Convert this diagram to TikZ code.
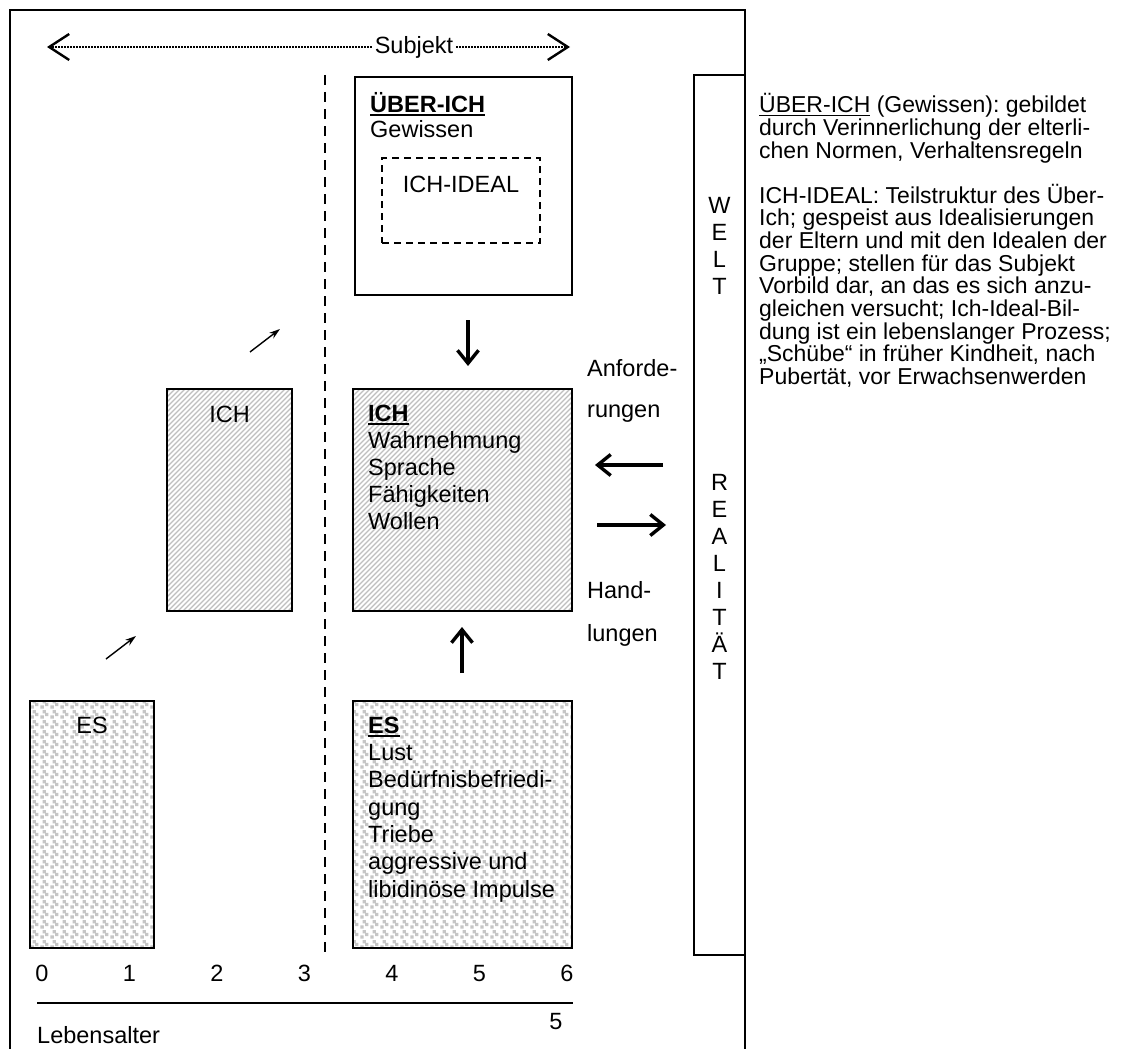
\documentclass[tikz,border=0pt]{standalone}
\usepackage{fontspec}
\setmainfont{Liberation Sans}
\usetikzlibrary{arrows.meta,patterns}
\pgfdeclarepatternformonly{myhatch}{\pgfqpoint{-1pt}{-1pt}}{\pgfqpoint{6pt}{6pt}}{\pgfqpoint{5pt}{5pt}}{%
  \pgfsetlinewidth{1.4pt}%
  \pgfpathmoveto{\pgfqpoint{0pt}{0pt}}\pgfpathlineto{\pgfqpoint{5.1pt}{5.1pt}}\pgfusepath{stroke}}
\pgfdeclarepatternformonly{mydots}{\pgfqpoint{0pt}{0pt}}{\pgfqpoint{10pt}{10pt}}{\pgfqpoint{10pt}{10pt}}{%
  \pgfpathrectangle{\pgfqpoint{0.5pt}{0.5pt}}{\pgfqpoint{3.6pt}{3.6pt}}%
  \pgfpathrectangle{\pgfqpoint{5.6pt}{3.2pt}}{\pgfqpoint{3.6pt}{3.6pt}}%
  \pgfpathrectangle{\pgfqpoint{2.8pt}{6.2pt}}{\pgfqpoint{3.6pt}{3.6pt}}%
  \pgfusepath{fill}}
\newcommand\ulbox[2]{\leavevmode\vtop{\hbox{#2}\kern2pt\hrule height #1}}
\frenchspacing
\begin{document}
\begin{tikzpicture}[x=1pt,y=-1pt,
  font=\fontsize{23.5}{27}\selectfont,
  box/.style={draw, line width=1.8pt, inner sep=0pt},
  hatchbox/.style={box, pattern=myhatch, pattern color=gray!50},
  dotbox/.style={box, pattern=mydots, pattern color=gray!45},
  txt/.style={anchor=base west, inner sep=0pt},
  ctxt/.style={anchor=base, inner sep=0pt},
  bigarrow/.style={line width=3.4pt, -{Straight Barb[length=13pt,width=21pt]}},
  subjarrow/.style={line width=1.5pt, dash pattern=on 1.5pt off 1.5pt, -{Straight Barb[length=20pt,width=26pt,line width=2.4pt]}},
  smallarrow/.style={line width=1.4pt, -{Stealth[length=11pt,width=7pt]}}]
\useasboundingbox (0,0) rectangle (1141,1049);
\fill[white] (0,0) rectangle (1141,1049);
% frame
\draw[line width=1.5pt] (10,1049) -- (10,10) -- (745,10) -- (745,1049);
% Subjekt arrow
\node[inner sep=3pt] (subj) at (414,47) {Subjekt};
\coordinate (sL) at (47,47);
\coordinate (sR) at (570,47);
\draw[subjarrow] (subj.west) -- (sL);
\draw[subjarrow] (subj.east) -- (sR);
% dashed separator
\coordinate (dT) at (325,75);
\coordinate (dBo) at (325,955);
\draw[line width=2.6pt, dash pattern=on 10pt off 7pt] (dT) -- (dBo);
% boxes
\node[box, minimum width=217pt, minimum height=218pt] (uber) at (463.5,186) {};
\node[box, dash pattern=on 7pt off 5pt, minimum width=158pt, minimum height=85pt] (ideal) at (461,200.5) {};
\node[hatchbox, minimum width=219pt, minimum height=222pt] (ichR) at (462.5,500) {};
\node[dotbox, minimum width=219pt, minimum height=247pt] (esR) at (462.5,824.5) {};
\node[hatchbox, minimum width=125pt, minimum height=222pt] (ichL) at (229.5,500) {};
\node[dotbox, minimum width=124pt, minimum height=247pt] (esL) at (92,824.5) {};
\node[box, line width=1.5pt, minimum width=51pt, minimum height=880pt] (welt) at (719.5,515) {};
% texts in boxes
\node[txt] (tUber) at (370,112) {\ulbox{1.8pt}{\bfseries ÜBER-ICH}};
\node[txt] (tGew) at (370,137) {Gewissen};
\node[ctxt] (tIdeal) at (461,192) {ICH-IDEAL};
\node[txt] (tIch) at (368,421) {\ulbox{1.8pt}{\bfseries ICH}};
\node[txt] (tI1) at (368,448) {Wahrnehmung};
\node[txt] (tI2) at (368,475) {Sprache};
\node[txt] (tI3) at (368,502) {Fähigkeiten};
\node[txt] (tI4) at (368,529) {Wollen};
\node[txt] (tEs) at (368,733) {\ulbox{1.8pt}{\bfseries ES}};
\node[txt] (tE1) at (368,760) {Lust};
\node[txt] (tE2) at (368,787) {Bedürfnisbefriedi-};
\node[txt] (tE3) at (368,815) {gung};
\node[txt] (tE4) at (368,842) {Triebe};
\node[txt] (tE5) at (368,869) {aggressive und};
\node[txt] (tE6) at (368,897) {libidinöse Impulse};
\node[ctxt] (tIchL) at (229.5,422) {ICH};
\node[ctxt] (tEsL) at (92,733) {ES};
% arrows between boxes
\coordinate (a1s) at (468,320); \coordinate (a1e) at (468,366);
\coordinate (a2s) at (462,673); \coordinate (a2e) at (462,627);
\coordinate (a3s) at (663,465); \coordinate (a3e) at (595,465);
\coordinate (a4s) at (597,525); \coordinate (a4e) at (666,525);
\draw[bigarrow] (a1s) -- (a1e);
\draw[bigarrow] (a2s) -- (a2e);
\draw[bigarrow] (a3s) -- (a3e);
\draw[bigarrow] (a4s) -- (a4e);
\coordinate (b1s) at (250,352); \coordinate (b1e) at (280,329);
\coordinate (b2s) at (106,659); \coordinate (b2e) at (136,636);
\draw[smallarrow] (b1s) -- (b1e);
\draw[smallarrow] (b2s) -- (b2e);
% Anforderungen / Handlungen
\node[txt] (tAnf1) at (587,376) {Anforde-};
\node[txt] (tAnf2) at (587,417) {rungen};
\node[txt] (tHan1) at (587,598) {Hand-};
\node[txt] (tHan2) at (587,641) {lungen};
% WELT / REALITAET
\foreach \l [count=\i] in {W,E,L,T}
  \node[ctxt] (w\i) at (719.5,{213+27*(\i-1)}) {\l};
\foreach \l [count=\i] in {R,E,A,L,I,T,Ä,T}
  \node[ctxt] (r\i) at (719.5,{490+27.1*(\i-1)}) {\l};
% axis
\foreach \n [count=\i] in {0,...,6}
  \node[ctxt] (n\n) at ({42+87.5*(\i-1)},981) {\n};
\coordinate (axL) at (37,1003);
\coordinate (axR) at (573,1003);
\draw[line width=1.5pt] (axL) -- (axR);
\node[ctxt] (pg) at (556,1029) {5};
\node[txt] (leb) at (37,1043) {Lebensalter};
% right explanation text
\begin{scope}[font=\fontsize{23}{22.7}\selectfont]
\node[txt] (p1) at (759,113) {\ulbox{1.2pt}{ÜBER-ICH} (Gewissen): gebildet};
\node[txt] (p2) at (759,135.7) {durch Verinnerlichung der elterli-};
\node[txt] (p3) at (759,158.4) {chen Normen, Verhaltensregeln};
\foreach \t [count=\i] in {{ICH-IDEAL: Teilstruktur des Über-},{Ich; gespeist aus Idealisierungen},{der Eltern und mit den Idealen der},{Gruppe; stellen für das Subjekt},{Vorbild dar, an das es sich anzu-},{gleichen versucht; Ich-Ideal-Bil-},{dung ist ein lebenslanger Prozess;},{„Schübe“ in früher Kindheit, nach},{Pubertät, vor Erwachsenwerden}}
  \node[txt] (q\i) at (759,{203+22.7*(\i-1)}) {\t};
\end{scope}
\end{tikzpicture}
\end{document}
